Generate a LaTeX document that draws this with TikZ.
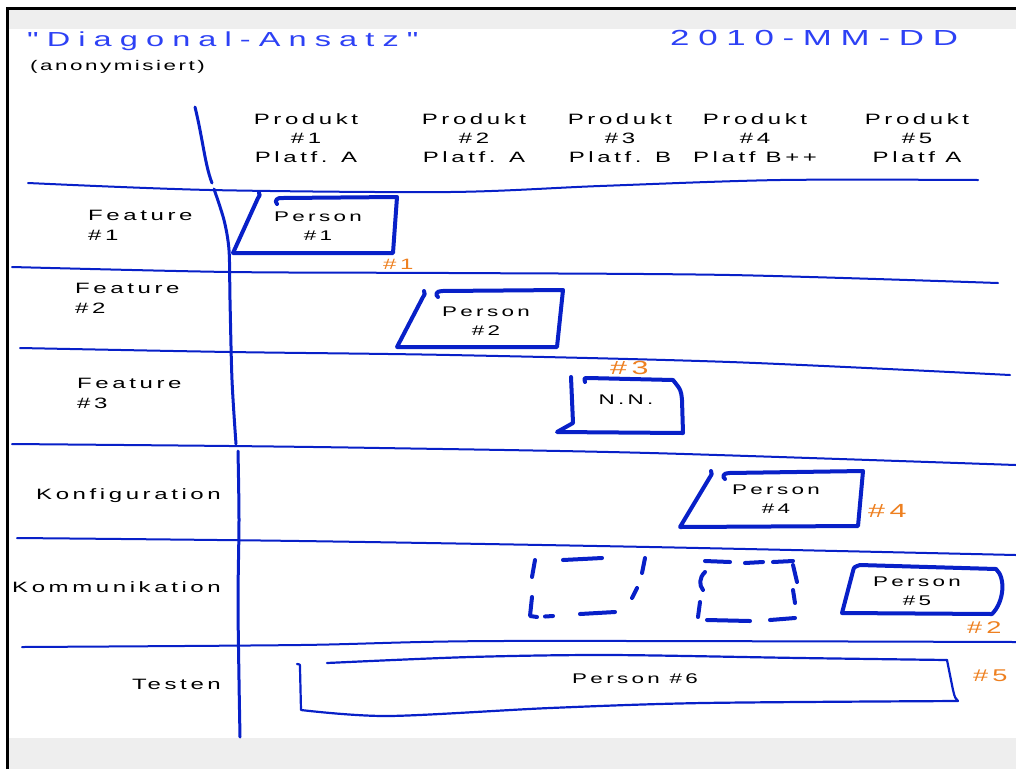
\documentclass[tikz,border=0pt]{standalone}
\usepackage{fontspec}
\setmainfont{Liberation Sans}
\newfontfamily\sketchfont[FakeStretch=1.6,LetterSpace=24,Ligatures=TeXOff]{Liberation Sans}
\newfontfamily\headlinefont[FakeStretch=1.6,LetterSpace=40,Ligatures=TeXOff]{Liberation Sans}
\newfontfamily\plainfont[FakeStretch=1.6,LetterSpace=18,Ligatures=TeXOff]{Liberation Sans}

\definecolor{ink}{RGB}{8,32,200}
\definecolor{titleblue}{RGB}{45,65,245}
\definecolor{marker}{RGB}{238,128,32}
\definecolor{panel}{RGB}{238,238,238}

\tikzset{
  rule/.style={ink, line width=2pt, line cap=round, line join=round},
  axis/.style={ink, line width=3pt, line cap=round, line join=round},
  slot/.style={ink, line width=4pt, line cap=round, line join=round},
  longslot/.style={ink, line width=2.2pt, line cap=round, line join=round},
  head/.style={inner sep=0pt, align=center, text=black, font=\sketchfont\fontsize{15}{19}\selectfont},
  rowlabel/.style={inner sep=0pt, align=left, text=black, font=\sketchfont\fontsize{15}{20}\selectfont},
  who/.style={inner sep=0pt, align=center, text=black, font=\sketchfont\fontsize{14}{19}\selectfont},
  tag/.style={inner sep=0pt, text=marker, font=\sketchfont\fontsize{#1}{#1}\selectfont},
}

\begin{document}
\begin{tikzpicture}[x=1pt,y=-1pt]
\useasboundingbox (0,0) rectangle (1016,769);
\clip (0,0) rectangle (1016,769);

% window frame and grey bars
\fill[white] (0,0) rectangle (1016,769);
\fill[panel] (9,10) rectangle (1016,28.5);
\fill[panel] (9,737.5) rectangle (1016,769);
\draw[black, line width=2.5pt] (7.5,769) -- (7.5,8.5) -- (1016,8.5);

% title block
\node[anchor=base west, inner sep=0pt, text=titleblue, font=\headlinefont\fontsize{20.3}{20}\selectfont] (title) at (27,46) {"Diagonal-Ansatz"};
\node[anchor=base west, inner sep=0pt, text=black, font=\plainfont\fontsize{14}{14}\selectfont] (anon) at (30,70) {(anonymisiert)};
\node[anchor=base west, inner sep=0pt, text=titleblue, font=\headlinefont\fontsize{21.8}{21}\selectfont] (date) at (670,45) {2010-MM-DD};

% column heads
\node[head, anchor=north] (p1) at (306,113) {Produkt\\\#1\\Platf. A};
\node[head, anchor=north] (p2) at (474,113) {Produkt\\\#2\\Platf. A};
\node[head, anchor=north] (p3) at (620,113) {Produkt\\\#3\\Platf. B};
\node[head, anchor=north] (p4) at (755,113) {Produkt\\\#4\\Platf B++};
\node[head, anchor=north] (p5) at (917,113) {Produkt\\\#5\\Platf A};

% row labels
\node[rowlabel, anchor=north west] (f1) at (88,210) {Feature\\\#1};
\node[rowlabel, anchor=north west] (f2) at (75,283) {Feature\\\#2};
\node[rowlabel, anchor=north west] (f3) at (77,378) {Feature\\\#3};
\node[rowlabel, anchor=base east] (kon) at (221,499) {Konfiguration};
\node[rowlabel, anchor=base east] (kom) at (221,592) {Kommunikation};
\node[rowlabel, anchor=base east] (tst) at (221,689) {Testen};

% vertical axis
\draw[axis] (195,107) .. controls (203,140) and (205,165) .. (212,183);
\draw[axis] plot[smooth] coordinates {(214,189) (224,220) (229,250) (230,300) (232,380) (236,444)};
\draw[axis] plot[smooth] coordinates {(238,451) (239,520) (238,600) (239,680) (240,737)};

% row separators
\draw[rule] plot[smooth] coordinates {(28,183) (210,190) (450,192) (600,186) (780,180) (978,180)};
\draw[rule] plot[smooth] coordinates {(12,267) (230,272) (450,273) (730,275) (998,283)};
\draw[rule] plot[smooth] coordinates {(20,348) (230,352) (450,355) (730,362) (1010,375)};
\draw[rule] plot[smooth] coordinates {(12,444) (230,446) (380,448) (650,453) (1016,465)};
\draw[rule] plot[smooth] coordinates {(17,538) (300,541) (650,547) (1016,555)};
\draw[rule] plot[smooth] coordinates {(22,647) (300,645) (500,641) (1016,642)};

% person slots
\draw[slot] (259,193) .. controls (260,195) .. (258,198) -- (233,253) -- (393,253) -- (397,197) -- (283,198)
  .. controls (277,197) and (274,201) .. (277,204);
\node[who, anchor=north] (w1) at (318,212) {Person\\\#1};

\draw[slot] (424,291) .. controls (425,294) .. (423,297) -- (397,347) -- (557,347) -- (563,290) -- (442,291)
  .. controls (436,291) and (435,295) .. (438,297);
\node[who, anchor=north] (w2) at (486,307) {Person\\\#2};

\draw[slot] (571,377) -- (573,423) -- (557,432) -- (683,433) -- (682,400)
  .. controls (681,390) .. (673,380) -- (588,378) .. controls (584,378) .. (585,382);
\node[who, anchor=north] (nn) at (626,395) {N.N.};

\draw[slot] (711,471) .. controls (712,474) .. (710,477) -- (680,527) -- (858,526) -- (863,471) -- (729,473)
  .. controls (723,473) and (722,477) .. (725,479);
\node[who, anchor=north] (w4) at (776,485) {Person\\\#4};

\draw[slot] (842,613) -- (853,571) .. controls (854,567) .. (860,565) -- (996,569)
  .. controls (1006,578) and (1004,602) .. (992,614) -- cycle;
\node[who, anchor=north] (w5) at (917,577) {Person\\\#5};

% open (dashed) slots
\draw[slot] (535,560) -- (532,577);
\draw[slot] (532,597) -- (530,616) -- (537,617);
\draw[slot] (545,616.5) -- (553,616);
\draw[slot] (580,614) -- (615,612);
\draw[slot] (563,560) -- (602,558);
\draw[slot] (645,558) -- (642,573);
\draw[slot] (637,588) -- (632,598);

\draw[slot] (705,572) .. controls (699,578) and (699,585) .. (703,590);
\draw[slot] (700,602) -- (698,617);
\draw[slot] (705,561) -- (730,562);
\draw[slot] (745,563) -- (763,562);
\draw[slot] (773,562) -- (793,561);
\draw[slot] (793,565) -- (797,582);
\draw[slot] (793,590) -- (795,603);
\draw[slot] (707,620) -- (750,621);
\draw[slot] (770,620) -- (795,618);

% long slot for testing
\draw[longslot] (297,664) .. controls (300,664) .. (300,668) -- (301,710)
  plot[smooth] coordinates {(301,710) (388,716) (550,708) (703,703) (958,701)}
  .. controls (955,698) .. (953,690) -- (947,660);
\draw[longslot] plot[smooth] coordinates {(327,663) (470,657) (609,655) (800,658) (947,660)};
\node[who, anchor=north] (w6) at (635,674) {Person \#6};

% order markers
\node[tag=15, anchor=north west] (m1) at (383,259) {\#1};
\node[tag=19, anchor=north west] (m3) at (610,361) {\#3};
\node[tag=19, anchor=north west] (m4) at (868,504) {\#4};
\node[tag=17, anchor=north west] (m2) at (967,621) {\#2};
\node[tag=17, anchor=north west] (m5) at (973,670) {\#5};
\end{tikzpicture}
\end{document}
